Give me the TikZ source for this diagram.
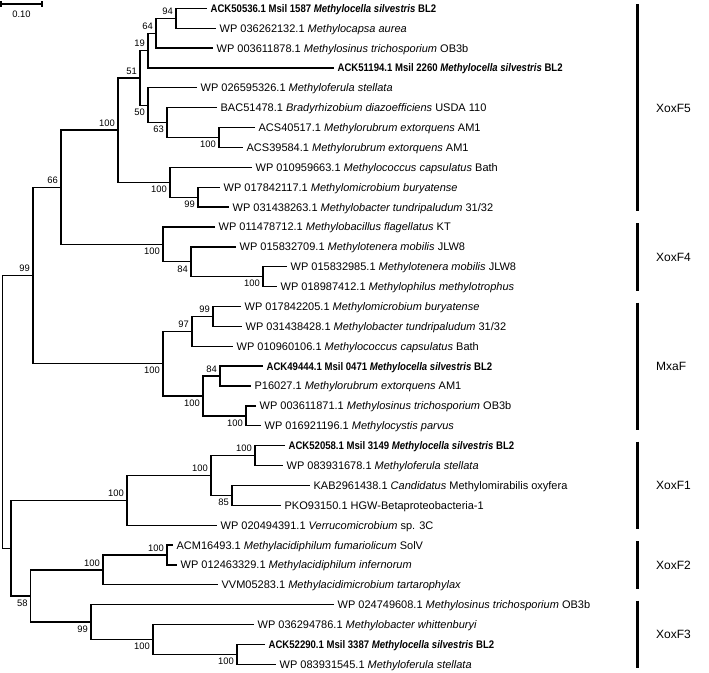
\documentclass[tikz,border=0pt]{standalone}
\usepackage{fontspec}
\setmainfont{Liberation Sans}
\newfontfamily\boldnarrow[FakeStretch=0.87]{Liberation Sans}
\newcommand{\msil}[1]{{\boldnarrow\bfseries #1}}
\begin{document}
\begin{tikzpicture}[x=1pt,y=-1pt,line width=1.3pt,line join=miter,
 leaf/.style={anchor=west,inner xsep=3pt,inner ysep=0pt,text height=7.9pt,text depth=0pt,font=\fontsize{11}{13}\selectfont},
 bsa/.style={anchor=south east,inner sep=0pt,font=\fontsize{9.4}{11}\selectfont,xshift=-2.5pt,yshift=3pt},
 bsb/.style={anchor=north east,inner sep=0pt,font=\fontsize{9.4}{11}\selectfont,xshift=-2.5pt,yshift=-3pt},
 clade/.style={anchor=west,inner sep=0pt,text height=8.6pt,text depth=0pt,font=\fontsize{12}{14}\selectfont},
 bar/.style={line width=3.3pt}]
\useasboundingbox (0,0) rectangle (709,672);
% scale bar
\coordinate (sbl) at (1,4); \coordinate (sbr) at (42,4);
\draw (sbl) -- (sbr);
\draw ([yshift=3pt]sbl) -- ([yshift=-3pt]sbl);
\draw ([yshift=3pt]sbr) -- ([yshift=-3pt]sbr);
\node[inner sep=0pt,text height=6.7pt,text depth=0pt,font=\fontsize{9.4}{11}\selectfont] (sblab) at (21.5,14) {0.10};
% leaves
\node[leaf] (t0) at (207,8.3) {\msil{ACK50536.1 Msil 1587 \textit{Methylocella silvestris} BL2}};
\node[leaf] (t1) at (216,28.2) {WP 036262132.1 \textit{Methylocapsa aurea}};
\node[leaf] (t2) at (213,48.1) {WP 003611878.1 \textit{Methylosinus trichosporium} OB3b};
\node[leaf] (t3) at (334,67.9) {\msil{ACK51194.1 Msil 2260 \textit{Methylocella silvestris} BL2}};
\node[leaf] (t4) at (197,87.8) {WP 026595326.1 \textit{Methyloferula stellata}};
\node[leaf] (t5) at (217,107.7) {BAC51478.1 \textit{Bradyrhizobium diazoefficiens} USDA 110};
\node[leaf] (t6) at (255,127.6) {ACS40517.1 \textit{Methylorubrum extorquens} AM1};
\node[leaf] (t7) at (243,147.5) {ACS39584.1 \textit{Methylorubrum extorquens} AM1};
\node[leaf] (t8) at (252,167.3) {WP 010959663.1 \textit{Methylococcus capsulatus} Bath};
\node[leaf] (t9) at (220,187.2) {WP 017842117.1 \textit{Methylomicrobium buryatense}};
\node[leaf] (t10) at (229,207.1) {WP 031438263.1 \textit{Methylobacter tundripaludum} 31/32};
\node[leaf] (t11) at (215,227.0) {WP 011478712.1 \textit{Methylobacillus flagellatus} KT};
\node[leaf] (t12) at (236,246.9) {WP 015832709.1 \textit{Methylotenera mobilis} JLW8};
\node[leaf] (t13) at (287,266.7) {WP 015832985.1 \textit{Methylotenera mobilis} JLW8};
\node[leaf] (t14) at (277,286.6) {WP 018987412.1 \textit{Methylophilus methylotrophus}};
\node[leaf] (t15) at (241,306.5) {WP 017842205.1 \textit{Methylomicrobium buryatense}};
\node[leaf] (t16) at (242,326.4) {WP 031438428.1 \textit{Methylobacter tundripaludum} 31/32};
\node[leaf] (t17) at (233,346.3) {WP 010960106.1 \textit{Methylococcus capsulatus} Bath};
\node[leaf] (t18) at (263,366.1) {\msil{ACK49444.1 Msil 0471 \textit{Methylocella silvestris} BL2}};
\node[leaf] (t19) at (251,386.0) {P16027.1 \textit{Methylorubrum extorquens} AM1};
\node[leaf] (t20) at (256,405.9) {WP 003611871.1 \textit{Methylosinus trichosporium} OB3b};
\node[leaf] (t21) at (261,425.8) {WP 016921196.1 \textit{Methylocystis parvus}};
\node[leaf] (t22) at (285,445.7) {\msil{ACK52058.1 Msil 3149 \textit{Methylocella silvestris} BL2}};
\node[leaf] (t23) at (283,465.5) {WP 083931678.1 \textit{Methyloferula stellata}};
\node[leaf] (t24) at (310,485.4) {KAB2961438.1 \textit{Candidatus} Methylomirabilis oxyfera};
\node[leaf] (t25) at (281,505.3) {PKO93150.1 HGW-Betaproteobacteria-1};
\node[leaf] (t26) at (217,525.2) {WP 020494391.1 \textit{Verrucomicrobium} sp. 3C};
\node[leaf] (t27) at (173,545.1) {ACM16493.1 \textit{Methylacidiphilum fumariolicum} SolV};
\node[leaf] (t28) at (177,564.9) {WP 012463329.1 \textit{Methylacidiphilum infernorum}};
\node[leaf] (t29) at (218,584.8) {VVM05283.1 \textit{Methylacidimicrobium tartarophylax}};
\node[leaf] (t30) at (334,604.7) {WP 024749608.1 \textit{Methylosinus trichosporium} OB3b};
\node[leaf] (t31) at (254,624.6) {WP 036294786.1 \textit{Methylobacter whittenburyi}};
\node[leaf] (t32) at (265,644.5) {\msil{ACK52290.1 Msil 3387 \textit{Methylocella silvestris} BL2}};
\node[leaf] (t33) at (276,664.3) {WP 083931545.1 \textit{Methyloferula stellata}};
% internal nodes and branches
\coordinate (n94) at (176,18.25);
\draw (t0.west) -| (n94) |- (t1.west);
\coordinate (n64) at (156,33.2);
\draw (n94) -| (n64) |- (t2.west);
\coordinate (n19) at (148,50.55);
\draw (n64) -| (n19) |- (t3.west);
\coordinate (nA100) at (219,137.55);
\draw (t6.west) -| (nA100) |- (t7.west);
\coordinate (n63) at (167,122.6);
\draw (t5.west) -| (n63) |- (nA100);
\coordinate (n50) at (148,105.2);
\draw (t4.west) -| (n50) |- (n63);
\coordinate (n51) at (140,77.9);
\draw (n19) -| (n51) |- (n50);
\coordinate (n99b) at (198,197.15);
\draw (t9.west) -| (n99b) |- (t10.west);
\coordinate (n100b) at (170,182.2);
\draw (t8.west) -| (n100b) |- (n99b);
\coordinate (nF5) at (118,130.05);
\draw (n51) -| (nF5) |- (n100b);
\coordinate (n100c) at (263,276.65);
\draw (t13.west) -| (n100c) |- (t14.west);
\coordinate (n84a) at (191,261.8);
\draw (t12.west) -| (n84a) |- (n100c);
\coordinate (nF4) at (163,244.4);
\draw (t11.west) -| (nF4) |- (n84a);
\coordinate (n66) at (61,187.2);
\draw (nF5) -| (n66) |- (nF4);
\coordinate (n99e) at (213,316.45);
\draw (t15.west) -| (n99e) |- (t16.west);
\coordinate (n97) at (192,331.4);
\draw (n99e) -| (n97) |- (t17.west);
\coordinate (n84m) at (220,376.05);
\draw (t18.west) -| (n84m) |- (t19.west);
\coordinate (n100f) at (246,415.85);
\draw (t20.west) -| (n100f) |- (t21.west);
\coordinate (n100d) at (203,395.95);
\draw (n84m) -| (n100d) |- (n100f);
\coordinate (nMx) at (163,363.7);
\draw (n97) -| (nMx) |- (n100d);
\coordinate (n99t) at (33,275.45);
\draw (n66) -| (n99t) |- (nMx);
\coordinate (n100h) at (255,455.6);
\draw (t22.west) -| (n100h) |- (t23.west);
\coordinate (n85) at (232,495.35);
\draw (t24.west) -| (n85) |- (t25.west);
\coordinate (n100g) at (211,475.5);
\draw (n100h) -| (n100g) |- (n85);
\coordinate (nF1) at (127,500.35);
\draw (n100g) -| (nF1) |- (t26.west);
\coordinate (n100j) at (167,555);
\draw (t27.west) -| (n100j) |- (t28.west);
\coordinate (n100i) at (103,569.9);
\draw (n100j) -| (n100i) |- (t29.west);
\coordinate (n100m) at (237,654.4);
\draw (t32.west) -| (n100m) |- (t33.west);
\coordinate (n100l) at (153,639.5);
\draw (t31.west) -| (n100l) |- (n100m);
\coordinate (n99k) at (91,622.1);
\draw (t30.west) -| (n99k) |- (n100l);
\coordinate (n58) at (30.7,596);
\draw (n100i) -| (n58) |- (n99k);
\coordinate (nA) at (11,548.2);
\draw (nF1) -| (nA) |- (n58);
\coordinate (root) at (2.7,411.8);
\draw (n99t) -| (root) |- (nA);
% bootstrap values
\node[bsa] (b94) at (n94) {94};
\node[bsa] (b64) at (n64) {64};
\node[bsa] (b19) at (n19) {19};
\node[bsa] (b51) at (n51) {51};
\node[bsa] (bF5) at (nF5) {100};
\node[bsa] (b66) at (n66) {66};
\node[bsa] (b99t) at (n99t) {99};
\node[bsa] (b99e) at (n99e) {99};
\node[bsa] (b97) at (n97) {97};
\node[bsa] (b84m) at (n84m) {84};
\node[bsa] (b100h) at (n100h) {100};
\node[bsa] (b100g) at (n100g) {100};
\node[bsa] (bF1) at (nF1) {100};
\node[bsa] (b100j) at (n100j) {100};
\node[bsa] (b100i) at (n100i) {100};
\node[bsb] (b50) at (n50) {50};
\node[bsb] (b63) at (n63) {63};
\node[bsb] (bA100) at (nA100) {100};
\node[bsb] (b100b) at (n100b) {100};
\node[bsb] (b99b) at (n99b) {99};
\node[bsb] (bF4) at (nF4) {100};
\node[bsb] (b84a) at (n84a) {84};
\node[bsb] (b100c) at (n100c) {100};
\node[bsb] (bMx) at (nMx) {100};
\node[bsb] (b100d) at (n100d) {100};
\node[bsb] (b100f) at (n100f) {100};
\node[bsb] (b85) at (n85) {85};
\node[bsb] (b58) at (n58) {58};
\node[bsb] (b99k) at (n99k) {99};
\node[bsb] (b100l) at (n100l) {100};
\node[bsb] (b100m) at (n100m) {100};
% clade bars
\coordinate (f5a) at (637.7,4.3); \coordinate (f5b) at (637.7,211.1);
\draw[bar] (f5a) -- (f5b);
\node[clade] (lF5) at (655.5,107.7) {XoxF5};
\coordinate (f4a) at (637.7,223); \coordinate (f4b) at (637.7,290.6);
\draw[bar] (f4a) -- (f4b);
\node[clade] (lF4) at (655.5,256.8) {XoxF4};
\coordinate (mxa) at (637.7,302.5); \coordinate (mxb) at (637.7,429.8);
\draw[bar] (mxa) -- (mxb);
\node[clade] (lMx) at (655.5,366.1) {MxaF};
\coordinate (f1a) at (637.7,441.7); \coordinate (f1b) at (637.7,529.2);
\draw[bar] (f1a) -- (f1b);
\node[clade] (lF1) at (655.5,485.4) {XoxF1};
\coordinate (f2a) at (637.7,541.1); \coordinate (f2b) at (637.7,588.8);
\draw[bar] (f2a) -- (f2b);
\node[clade] (lF2) at (655.5,565) {XoxF2};
\coordinate (f3a) at (637.7,600.7); \coordinate (f3b) at (637.7,668.3);
\draw[bar] (f3a) -- (f3b);
\node[clade] (lF3) at (655.5,634.5) {XoxF3};
\end{tikzpicture}
\end{document}
